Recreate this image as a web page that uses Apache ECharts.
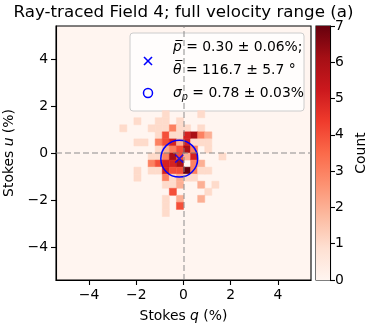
<!DOCTYPE html>
<html>
<head>
<meta charset="utf-8">
<script src="https://cdn.jsdelivr.net/npm/echarts@6/dist/echarts.min.js"></script>
<style>
  html, body { margin: 0; padding: 0; background: #fff; }
  #main { width: 389px; height: 330px; }
</style>
</head>
<body>
<div id="main"></div>
<script>
// histogram range / bin width (Stokes %, both axes)
var histMin = -5.4;
var histMax = 5.4;
var binWidth = 0.3;

// non-empty bins: [q bin index, u bin index, count]; bin i spans [i*binWidth, (i+1)*binWidth]
var cells = [
  [-3, 5, 1], [2, 5, 1],
  [-7, 4, 1], [-4, 4, 1], [-3, 4, 1], [-1, 4, 1],
  [-9, 3, 1], [-5, 3, 1], [-4, 3, 1], [-3, 3, 1], [-2, 3, 3], [-1, 3, 1], [0, 3, 1], [2, 3, 1],
  [-4, 2, 1], [-3, 2, 4], [-2, 2, 1], [-1, 2, 1], [0, 2, 5], [1, 2, 6], [2, 2, 3], [3, 2, 2],
  [-7, 1, 1], [-6, 1, 1], [-4, 1, 3], [-3, 1, 4], [-2, 1, 5], [-1, 1, 2], [0, 1, 5], [1, 1, 1], [2, 1, 1], [3, 1, 1],
  [-4, 0, 1], [-3, 0, 2], [-2, 0, 3], [-1, 0, 4], [0, 0, 6], [1, 0, 3], [3, 0, 1],
  [-5, -1, 1], [-4, -1, 1], [-3, -1, 3], [-2, -1, 6], [-1, -1, 4], [0, -1, 2], [1, -1, 5], [5, -1, 1],
  [-5, -2, 3], [-4, -2, 4], [-3, -2, 5], [-2, -2, 5], [-1, -2, 6], [1, -2, 3], [2, -2, 2],
  [-7, -3, 1], [-5, -3, 1], [-4, -3, 1], [-3, -3, 5], [-2, -3, 4], [-1, -3, 4], [0, -3, 7], [1, -3, 3], [2, -3, 1], [3, -3, 1],
  [-7, -4, 1], [-3, -4, 3], [-2, -4, 1], [-1, -4, 2], [0, -4, 1], [1, -4, 1],
  [-3, -5, 1], [-2, -5, 1], [-1, -5, 2], [2, -5, 2], [4, -5, 1],
  [-2, -6, 4], [3, -6, 1],
  [-3, -7, 1], [-1, -7, 2], [2, -7, 2],
  [-3, -8, 1], [-1, -8, 4],
  [-3, -9, 1]
];

// mean polarisation and spread
var meanQ = -0.18;
var meanU = -0.24;
var sigmaP = 0.78;

var qTicks = [-4, -2, 0, 2, 4];
var uTicks = [-4, -2, 0, 2, 4];
var countMin = 0;
var countMax = 7;

var reds = ['#fff5f0', '#fee0d2', '#fcbba1', '#fc9272', '#fb6a4a', '#ef3b2c', '#cb181d', '#a50f15', '#67000d'];
var font = 'DejaVu Sans';

var cellData = cells.map(function (c) {
  return [c[0] * binWidth, c[1] * binWidth, c[2]];
});

function minus(v) {
  return String(v).replace('-', '\u2212');
}

var legendRich = {
  i: { fontFamily: font, fontSize: 13.9, fontStyle: 'italic', fill: '#000' },
  t: { fontFamily: font, fontSize: 13.9, fill: '#000' },
  sub: { fontFamily: font, fontSize: 9.7, fontStyle: 'italic', fill: '#000', padding: [8, 0, 0, 0] }
};

var myChart = echarts.init(document.getElementById('main'), null, { renderer: 'canvas' });

var option = {
  animation: false,
  textStyle: { fontFamily: font },
  grid: [
    { left: 56, top: 26, width: 255, height: 254, outerBoundsMode: 'none', containLabel: false, show: true, backgroundColor: reds[0], borderColor: '#000', borderWidth: 1.1 },
    { left: 316, top: 26, width: 14, height: 254, outerBoundsMode: 'none', containLabel: false, show: true, backgroundColor: 'transparent', borderColor: '#000', borderWidth: 1.1 }
  ],
  xAxis: [
    {
      gridIndex: 0, type: 'value', min: histMin, max: histMax,
      name: '{t|Stokes }{i|q}{t| (%)}', nameLocation: 'middle', nameGap: 29,
      nameTextStyle: {
        rich: {
          t: { fontFamily: font, fontSize: 13.9, color: '#000' },
          i: { fontFamily: font, fontSize: 13.9, fontStyle: 'italic', color: '#000' }
        }
      },
      axisLine: { onZero: false, lineStyle: { color: '#000', width: 1.1 } },
      axisTick: { length: 5, lineStyle: { color: '#000', width: 1.1 }, customValues: qTicks },
      axisLabel: { customValues: qTicks, formatter: minus, color: '#000', fontSize: 13.9, fontFamily: font, margin: 8 },
      splitLine: { show: false }
    },
    { gridIndex: 1, type: 'value', min: 0, max: 1, show: false }
  ],
  yAxis: [
    {
      gridIndex: 0, type: 'value', min: histMin, max: histMax,
      name: '{t|Stokes }{i|u}{t| (%)}', nameLocation: 'middle', nameGap: 33, nameRotate: 90,
      nameTextStyle: {
        rich: {
          t: { fontFamily: font, fontSize: 13.9, color: '#000' },
          i: { fontFamily: font, fontSize: 13.9, fontStyle: 'italic', color: '#000' }
        }
      },
      axisLine: { onZero: false, lineStyle: { color: '#000', width: 1.1 } },
      axisTick: { length: 5, lineStyle: { color: '#000', width: 1.1 }, customValues: uTicks },
      axisLabel: { customValues: uTicks, formatter: minus, color: '#000', fontSize: 13.9, fontFamily: font, margin: 8 },
      splitLine: { show: false }
    },
    {
      gridIndex: 1, type: 'value', min: countMin, max: countMax, interval: 1, position: 'right',
      name: 'Count', nameLocation: 'middle', nameGap: 24, nameRotate: 90,
      nameTextStyle: { fontFamily: font, fontSize: 13.9, color: '#000' },
      axisLine: { show: true, onZero: false, lineStyle: { color: '#000', width: 1.1 } },
      axisTick: { show: true, length: 5, lineStyle: { color: '#000', width: 1.1 } },
      axisLabel: { color: '#000', fontSize: 13.9, fontFamily: font, margin: 5 },
      splitLine: { show: false }
    }
  ],
  visualMap: {
    type: 'continuous', show: false, min: countMin, max: countMax,
    dimension: 2, seriesIndex: 0, inRange: { color: reds }
  },
  series: [
    {
      type: 'custom', xAxisIndex: 0, yAxisIndex: 0, silent: true,
      encode: { x: 0, y: 1 },
      data: cellData,
      renderItem: function (params, api) {
        var p0 = api.coord([api.value(0), api.value(1)]);
        var p1 = api.coord([api.value(0) + binWidth, api.value(1) + binWidth]);
        var col = api.visual('color');
        return {
          type: 'rect',
          shape: { x: p0[0], y: p1[1], width: p1[0] - p0[0], height: p0[1] - p1[1] },
          style: { fill: col, stroke: col, lineWidth: 0.5 }
        };
      }
    },
    {
      type: 'scatter', xAxisIndex: 0, yAxisIndex: 0, silent: true,
      data: [[meanQ, meanU]],
      symbol: 'path://M0,0L10,10M10,0L0,10',
      symbolSize: 8,
      itemStyle: { color: 'rgba(0,0,0,0)', borderColor: '#0000ff', borderWidth: 1.6 },
      z: 4,
      markLine: {
        silent: true, symbol: ['none', 'none'], label: { show: false },
        lineStyle: { color: 'rgba(128,128,128,0.6)', type: [6, 3], width: 1.5 },
        data: [{ xAxis: 0 }, { yAxis: 0 }]
      }
    },
    {
      type: 'custom', xAxisIndex: 0, yAxisIndex: 0, silent: true, z: 4,
      data: [[meanQ, meanU, sigmaP]],
      renderItem: function (params, api) {
        var c = api.coord([api.value(0), api.value(1)]);
        var r = api.size([api.value(2), api.value(2)])[0];
        return {
          type: 'circle',
          shape: { cx: c[0], cy: c[1], r: r },
          style: { fill: 'none', stroke: '#0000ff', lineWidth: 1.5 }
        };
      }
    },
    {
      type: 'custom', xAxisIndex: 1, yAxisIndex: 1, silent: true,
      data: [[0, countMin, countMax]],
      renderItem: function (params, api) {
        var p0 = api.coord([0, api.value(1)]);
        var p1 = api.coord([1, api.value(2)]);
        var stops = reds.map(function (c, i) {
          return { offset: i / (reds.length - 1), color: c };
        });
        return {
          type: 'rect',
          shape: { x: p0[0], y: p1[1], width: p1[0] - p0[0], height: p0[1] - p1[1] },
          style: { fill: new echarts.graphic.LinearGradient(0, 1, 0, 0, stops) }
        };
      }
    }
  ],
  graphic: [
    {
      type: 'text', x: 183.5, y: 13, silent: true,
      style: { text: 'Ray-traced Field 4; full velocity range (a)', fontFamily: font, fontSize: 16.7, fill: '#000', align: 'center', verticalAlign: 'middle' }
    },
    {
      type: 'group', z: 100, silent: true,
      children: [
        {
          type: 'rect', shape: { x: 130, y: 33, width: 174, height: 78, r: 3 },
          style: { fill: 'rgba(255,255,255,0.8)', stroke: '#cccccc', lineWidth: 1 }
        },
        {
          type: 'line', shape: { x1: 144, y1: 57, x2: 152, y2: 65 },
          style: { stroke: '#0000ff', lineWidth: 1.6 }
        },
        {
          type: 'line', shape: { x1: 152, y1: 57, x2: 144, y2: 65 },
          style: { stroke: '#0000ff', lineWidth: 1.6 }
        },
        {
          type: 'circle', shape: { cx: 148, cy: 93, r: 4.5 },
          style: { fill: 'none', stroke: '#0000ff', lineWidth: 1.5 }
        },
        {
          type: 'text', x: 173, y: 47,
          style: { text: '{i|p\u0305}{t| = 0.30 \u00b1 0.06%;}', verticalAlign: 'middle', rich: legendRich }
        },
        {
          type: 'text', x: 173, y: 70,
          style: { text: '{i|\u03b8\u0305}{t| = 116.7 \u00b1 5.7 \u00b0}', verticalAlign: 'middle', rich: legendRich }
        },
        {
          type: 'text', x: 173, y: 93,
          style: { text: '{i|\u03c3}{sub|p}{t| = 0.78 \u00b1 0.03%}', verticalAlign: 'middle', rich: legendRich }
        }
      ]
    }
  ]
};

myChart.setOption(option);
</script>
</body>
</html>
